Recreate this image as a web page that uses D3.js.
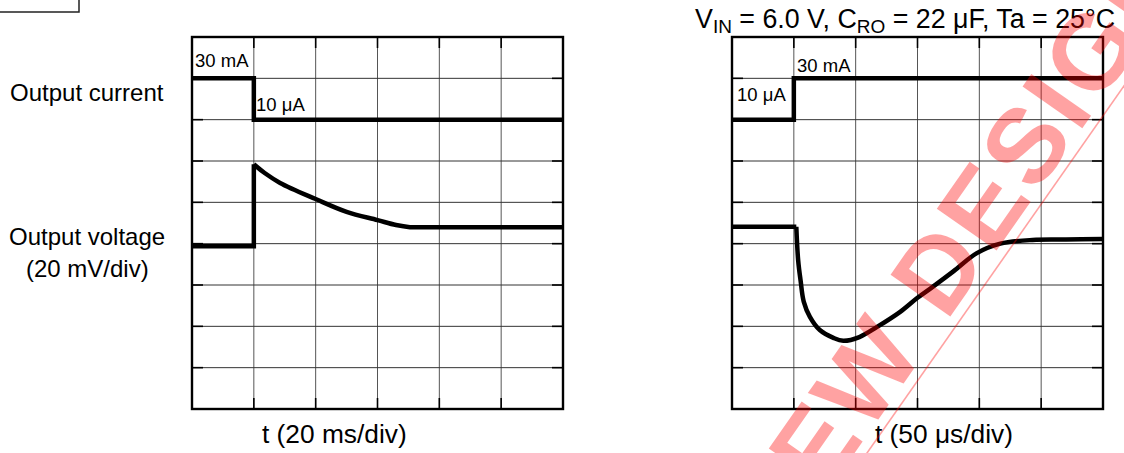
<!DOCTYPE html>
<html><head><meta charset="utf-8">
<script src="https://cdn.jsdelivr.net/npm/d3@7"></script>
<style>
html,body{margin:0;padding:0;background:#fff;}
svg{display:block;}
text{font-family:"Liberation Sans",Arial,Helvetica,sans-serif;fill:#000;}
</style></head>
<body>
<script>
// ---- data ----
const gridCols = 6;            // time divisions
const gridRows = 9;            // vertical divisions
const leftTimeDomain = [0, 120];   // ms (20 ms/div)
const rightTimeDomain = [0, 300];  // µs (50 µs/div)

// output current traces (in vertical divisions)
const leftCurrentT   = [0, 20, 20, 120];
const leftCurrentDiv = [8, 8, 7, 7];
const rightCurrentT   = [0, 50, 50, 300];
const rightCurrentDiv = [7, 7, 8, 8];

// output voltage traces (in vertical divisions, 20 mV/div)
const leftVoltStepT   = [0, 20, 20];
const leftVoltStepDiv = [3.94, 3.94, 5.92];
const leftVoltDecayT   = [20, 23.5, 28.5, 40, 50, 60, 66, 70.5, 80, 120];
const leftVoltDecayDiv = [5.92, 5.71, 5.47, 5.08, 4.77, 4.57, 4.45, 4.40, 4.40, 4.40];

const rightVoltFlatT   = [0, 52];
const rightVoltFlatDiv = [4.41, 4.41];
const rightVoltT   = [52, 53.5, 55.5, 58, 63, 71, 82, 90, 103, 117, 136, 150, 162, 179, 198, 217, 243, 270, 300];
const rightVoltDiv = [4.41, 3.6, 3.1, 2.6, 2.23, 1.91, 1.72, 1.65, 1.74, 1.98, 2.35, 2.69, 2.95, 3.33, 3.77, 4.0, 4.09, 4.10, 4.11];

// labels
const leftLevelLabels  = ["30 mA", "10 μA"];
const rightLevelLabels = ["10 μA", "30 mA"];
const rowLabels = ["Output current", "Output voltage", "(20 mV/div)"];
const xLabels = ["t (20 ms/div)", "t (50 μs/div)"];
const watermarkText = "NEW DESIGN";

// ---- drawing ----
const W = 1124, H = 453;
const svg = d3.select("body").append("svg").attr("width", W).attr("height", H);

// corner box fragment
svg.append("path").attr("d", "M0,12H79V0").attr("fill", "none").attr("stroke", "#222").attr("stroke-width", 1.5);

const panelTop = 37, panelBottom = 409, panelW = 371;
const y = d3.scaleLinear().domain([0, gridRows]).range([panelBottom, panelTop]);

function panel(x0, domain) {
  const x = d3.scaleLinear().domain(domain).range([x0, x0 + panelW]);
  const g = svg.append("g");
  const step = (domain[1] - domain[0]) / gridCols;
  const xt = d3.range(1, gridCols).map(i => domain[0] + i * step);
  const yt = d3.range(1, gridRows);
  g.selectAll(".vx").data(xt).join("line")
    .attr("x1", d => x(d)).attr("x2", d => x(d)).attr("y1", panelTop).attr("y2", panelBottom)
    .attr("stroke", "#555").attr("stroke-width", 1);
  g.selectAll(".hy").data(yt).join("line")
    .attr("y1", d => y(d)).attr("y2", d => y(d)).attr("x1", x0).attr("x2", x0 + panelW)
    .attr("stroke", "#333").attr("stroke-width", 1);
  const tl = 11;
  yt.forEach(d => {
    g.append("line").attr("x1", x0).attr("x2", x0 + tl).attr("y1", y(d)).attr("y2", y(d)).attr("stroke", "#000").attr("stroke-width", 1.6);
    g.append("line").attr("x1", x0 + panelW - tl).attr("x2", x0 + panelW).attr("y1", y(d)).attr("y2", y(d)).attr("stroke", "#000").attr("stroke-width", 1.6);
  });
  xt.forEach(d => {
    g.append("line").attr("x1", x(d)).attr("x2", x(d)).attr("y1", panelTop).attr("y2", panelTop + tl).attr("stroke", "#000").attr("stroke-width", 1.6);
    g.append("line").attr("x1", x(d)).attr("x2", x(d)).attr("y1", panelBottom - tl).attr("y2", panelBottom).attr("stroke", "#000").attr("stroke-width", 1.6);
  });
  g.append("rect").attr("x", x0).attr("y", panelTop).attr("width", panelW).attr("height", panelBottom - panelTop)
    .attr("fill", "none").attr("stroke", "#000").attr("stroke-width", 2.4);
  return {x, g};
}

function trace(g, x, ts, vs, curve) {
  const pts = ts.map((t, i) => [t, vs[i]]);
  g.append("path").datum(pts)
    .attr("d", d3.line().x(d => x(d[0])).y(d => y(d[1])).curve(curve))
    .attr("fill", "none").attr("stroke", "#000").attr("stroke-width", 4.5)
    .attr("stroke-linejoin", "miter").attr("stroke-linecap", "butt");
}

const L = panel(192, leftTimeDomain);
trace(L.g, L.x, leftCurrentT, leftCurrentDiv, d3.curveLinear);
trace(L.g, L.x, leftVoltStepT, leftVoltStepDiv, d3.curveLinear);
trace(L.g, L.x, leftVoltDecayT, leftVoltDecayDiv, d3.curveCatmullRom.alpha(0.5));

const R = panel(732, rightTimeDomain);
trace(R.g, R.x, rightCurrentT, rightCurrentDiv, d3.curveLinear);
trace(R.g, R.x, rightVoltFlatT, rightVoltFlatDiv, d3.curveLinear);
trace(R.g, R.x, rightVoltT, rightVoltDiv, d3.curveCatmullRom.alpha(0.5));

// level labels
const small = 18.5;
svg.append("text").attr("x", 195).attr("y", 67).attr("font-size", small).text(leftLevelLabels[0]);
svg.append("text").attr("x", 256).attr("y", 111).attr("font-size", small).text(leftLevelLabels[1]);
svg.append("text").attr("x", 737).attr("y", 101).attr("font-size", small).text(rightLevelLabels[0]);
svg.append("text").attr("x", 797).attr("y", 72).attr("font-size", small).text(rightLevelLabels[1]);

// row labels
svg.append("text").attr("x", 10).attr("y", 101).attr("font-size", 24).text(rowLabels[0]);
svg.append("text").attr("x", 9).attr("y", 245).attr("font-size", 24).text(rowLabels[1]);
svg.append("text").attr("x", 26).attr("y", 277).attr("font-size", 24).text(rowLabels[2]);

// x labels
svg.append("text").attr("x", 262).attr("y", 443).attr("font-size", 26.3).text(xLabels[0]);
svg.append("text").attr("x", 875).attr("y", 443).attr("font-size", 26.3).text(xLabels[1]);

// title with subscripts
const title = svg.append("text").attr("x", 695).attr("y", 28).attr("font-size", 26.8);
title.append("tspan").text("V");
title.append("tspan").attr("font-size", 19).attr("dy", 5).text("IN");
title.append("tspan").attr("dy", -5).text(" = 6.0 V, C");
title.append("tspan").attr("font-size", 19).attr("dy", 5).text("RO");
title.append("tspan").attr("dy", -5).text(" = 22 μF, Ta = 25°C");

// watermark: text sitting just above a thin diagonal rule
const ang = 55, fs = 106, ls = 4;
const rad = ang * Math.PI / 180;
const u = [Math.cos(rad), -Math.sin(rad)];
const n = [Math.sin(rad), Math.cos(rad)];
const P0 = [867, 453];
const endAlong = 583;
const gap = 10;
const endPt = [P0[0] + u[0] * endAlong - n[0] * gap, P0[1] + u[1] * endAlong - n[1] * gap];
const wm = svg.append("g").attr("opacity", 0.36);
wm.append("text").attr("transform", `translate(${endPt[0]},${endPt[1]}) rotate(${-ang})`)
  .attr("text-anchor", "end").attr("font-size", fs).attr("font-weight", "bold")
  .attr("letter-spacing", ls).style("fill", "#ff0000").text(watermarkText);
wm.append("line").attr("x1", P0[0] - u[0] * 40).attr("y1", P0[1] - u[1] * 40)
  .attr("x2", P0[0] + u[0] * 560).attr("y2", P0[1] + u[1] * 560)
  .attr("stroke", "#ff0000").attr("stroke-width", 1.6);
</script>
</body></html>
